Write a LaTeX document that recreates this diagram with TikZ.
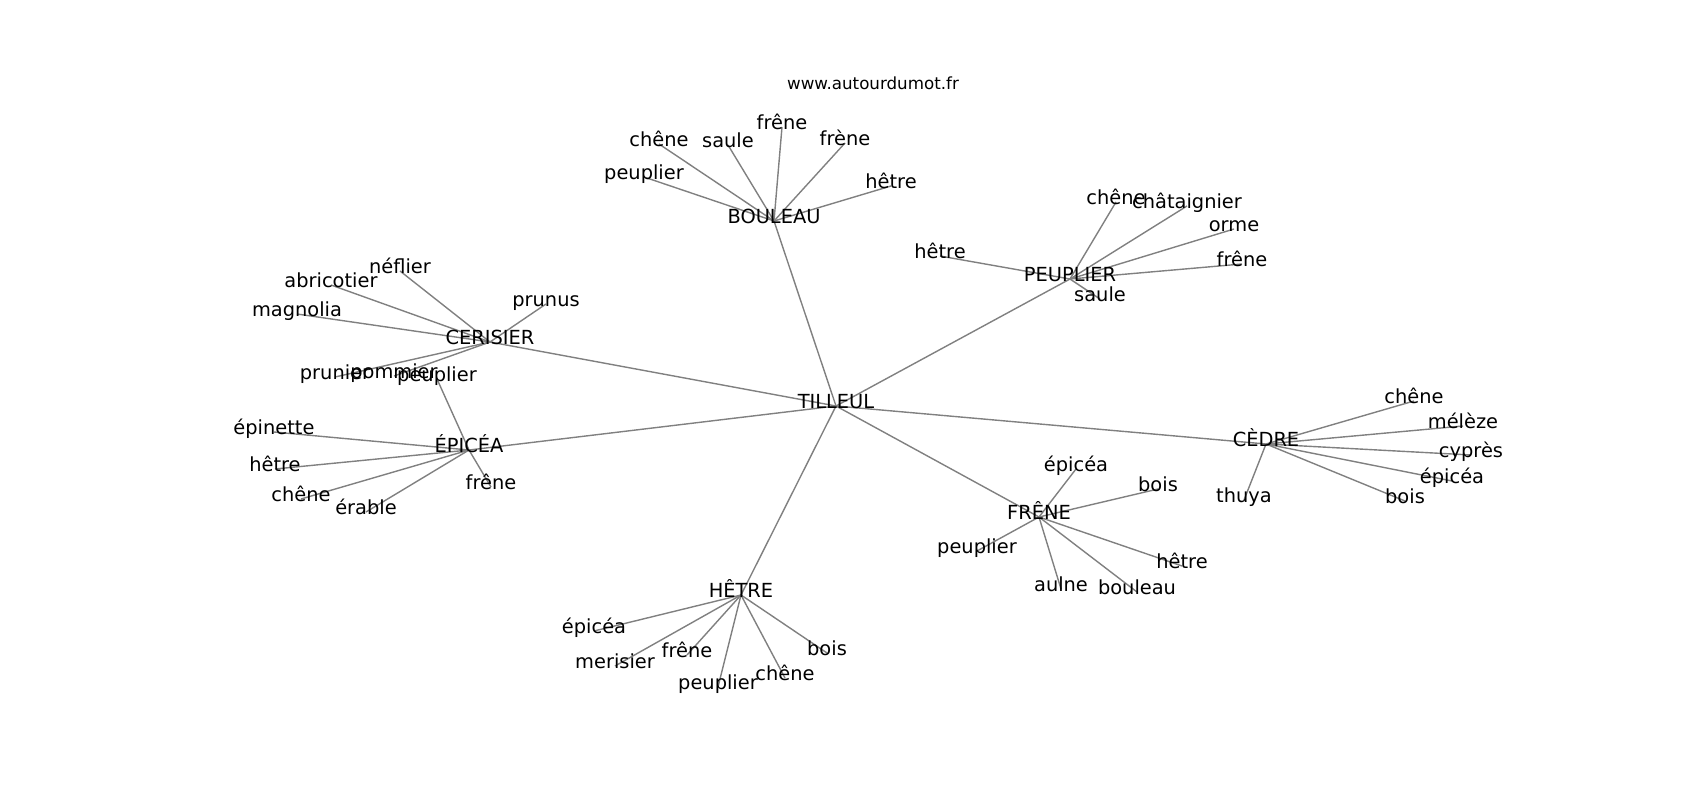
\documentclass[tikz,border=0pt]{standalone}
\usepackage{fontspec}
\setmainfont{DejaVu Sans}
\usetikzlibrary{backgrounds}
\tikzset{
  mot/.style={inner sep=0pt, text height=0.76em, text depth=0.24em,
    font=\fontsize{19.4}{23}\selectfont},
  lien/.style={draw=gray, line width=1.4pt}
}
\begin{document}
\begin{tikzpicture}[x=1pt,y=-1pt]
  \useasboundingbox (0,0) rectangle (1700,800);
  \begin{scope}[shift={(2,4)}]
  \node[mot,font=\fontsize{16.7}{20}\selectfont] (titre) at (871,83) {www.autourdumot.fr};

  \node[mot] (til) at (834,402) {TILLEUL};
  \node[mot] (bou) at (772,217) {BOULEAU};
  \node[mot] (peu) at (1068,275) {PEUPLIER};
  \node[mot] (cer) at (488,338) {CERISIER};
  \node[mot] (epi) at (467,446) {ÉPICÉA};
  \node[mot] (ced) at (1264,440) {CÈDRE};
  \node[mot] (fre) at (1037,513) {FRÊNE};
  \node[mot] (het) at (739,591) {HÊTRE};

  \node[mot] (bou1) at (642,173) {peuplier};
  \node[mot] (bou2) at (657,140) {chêne};
  \node[mot] (bou3) at (726,141) {saule};
  \node[mot] (bou4) at (780,123) {frêne};
  \node[mot] (bou5) at (843,139) {frène};
  \node[mot] (bou6) at (889,182) {hêtre};

  \node[mot] (peu1) at (938,252) {hêtre};
  \node[mot] (peu2) at (1114,198) {chêne};
  \node[mot] (peu3) at (1185,202) {châtaignier};
  \node[mot] (peu4) at (1232,225) {orme};
  \node[mot] (peu5) at (1240,260) {frêne};
  \node[mot] (peu6) at (1098,295) {saule};

  \node[mot] (cer1) at (398,267) {néflier};
  \node[mot] (cer2) at (329,281) {abricotier};
  \node[mot] (cer3) at (295,310) {magnolia};
  \node[mot] (cer4) at (544,300) {prunus};
  \node[mot] (cer5) at (333,373) {prunier};
  \node[mot] (cer6) at (392,372) {pommier};

  \node[mot] (epi1) at (272,428) {épinette};
  \node[mot] (epi2) at (273,465) {hêtre};
  \node[mot] (epi3) at (299,495) {chêne};
  \node[mot] (epi4) at (364,508) {érable};
  \node[mot] (epi5) at (489,483) {frêne};
  \node[mot] (epi6) at (435,375) {peuplier};

  \node[mot] (ced1) at (1412,397) {chêne};
  \node[mot] (ced2) at (1461,422) {mélèze};
  \node[mot] (ced3) at (1469,451) {cyprès};
  \node[mot] (ced4) at (1450,477) {épicéa};
  \node[mot] (ced5) at (1403,497) {bois};
  \node[mot] (ced6) at (1242,496) {thuya};

  \node[mot] (fre1) at (1074,465) {épicéa};
  \node[mot] (fre2) at (1156,485) {bois};
  \node[mot] (fre3) at (975,547) {peuplier};
  \node[mot] (fre4) at (1059,585) {aulne};
  \node[mot] (fre5) at (1135,588) {bouleau};
  \node[mot] (fre6) at (1180,562) {hêtre};

  \node[mot] (het1) at (592,627) {épicéa};
  \node[mot] (het2) at (613,662) {merisier};
  \node[mot] (het3) at (685,651) {frêne};
  \node[mot] (het4) at (716,683) {peuplier};
  \node[mot] (het5) at (783,674) {chêne};
  \node[mot] (het6) at (825,649) {bois};
  \end{scope}

  \begin{scope}[on background layer]
    \foreach \a in {bou,peu,cer,epi,ced,fre,het}
      \draw[lien] (til.center) -- (\a.center);
    \foreach \a in {bou,peu,cer,epi,ced,fre,het} {
      \foreach \i in {1,...,6}
        \draw[lien] (\a.center) -- (\a\i.center);
    }
  \end{scope}
\end{tikzpicture}
\end{document}
